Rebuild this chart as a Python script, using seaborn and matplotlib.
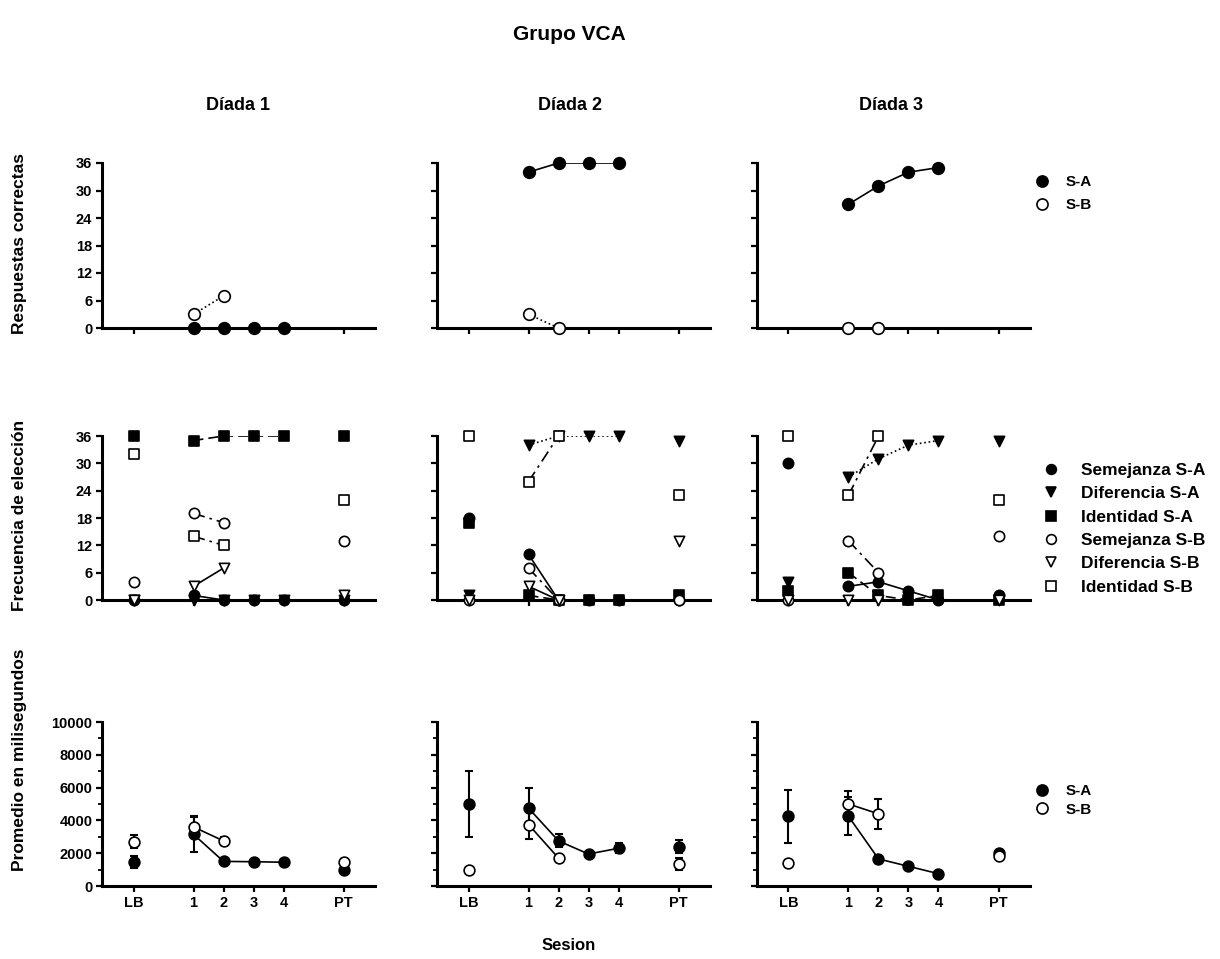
import numpy as np
import matplotlib
matplotlib.use("Agg")
import matplotlib.pyplot as plt
import seaborn as sns
from matplotlib.lines import Line2D

N = np.nan
sessions = ["LB", "1", "2", "3", "4", "PT"]
diadas = ["Díada 1", "Díada 2", "Díada 3"]

# ---- Row 1: Respuestas correctas ----
resp_SA_d1 = [N, 0, 0, 0, 0, N]
resp_SB_d1 = [N, 3, 7, N, N, N]
resp_SA_d2 = [N, 34, 36, 36, 36, N]
resp_SB_d2 = [N, 3, 0, N, N, N]
resp_SA_d3 = [N, 27, 31, 34, 35, N]
resp_SB_d3 = [N, 0, 0, N, N, N]

# ---- Row 2: Frecuencia de elección ----
sem_SA_d1 = [0, 1, 0, 0, 0, 0]
dif_SA_d1 = [0, 0, 0, 0, 0, 0]
id_SA_d1 = [36, 35, 36, 36, 36, 36]
sem_SB_d1 = [4, 19, 17, N, N, 13]
dif_SB_d1 = [0, 3, 7, N, N, 1]
id_SB_d1 = [32, 14, 12, N, N, 22]

sem_SA_d2 = [18, 10, 0, 0, 0, 0]
dif_SA_d2 = [1, 34, 36, 36, 36, 35]
id_SA_d2 = [17, 1, 0, 0, 0, 1]
sem_SB_d2 = [0, 7, 0, N, N, 0]
dif_SB_d2 = [0, 3, 0, N, N, 13]
id_SB_d2 = [36, 26, 36, N, N, 23]

sem_SA_d3 = [30, 3, 4, 2, 0, 1]
dif_SA_d3 = [4, 27, 31, 34, 35, 35]
id_SA_d3 = [2, 6, 1, 0, 1, 0]
sem_SB_d3 = [0, 13, 6, N, N, 14]
dif_SB_d3 = [0, 0, 0, N, N, 0]
id_SB_d3 = [36, 23, 36, N, N, 22]

# ---- Row 3: Promedio en milisegundos (mean, error) ----
ms_SA_d1 = [1450, 3150, 1500, 1480, 1450, 950]
ms_SA_err_d1 = [350, 1050, 100, 80, 50, 100]
ms_SB_d1 = [2700, 3600, 2750, N, N, 1450]
ms_SB_err_d1 = [400, 650, 250, N, N, 200]

ms_SA_d2 = [5000, 4750, 2750, 1950, 2300, 2400]
ms_SA_err_d2 = [2000, 1200, 400, 100, 300, 400]
ms_SB_d2 = [950, 3750, 1700, N, N, 1350]
ms_SB_err_d2 = [0, 900, 200, N, N, 350]

ms_SA_d3 = [4250, 4250, 1650, 1200, 750, 2000]
ms_SA_err_d3 = [1600, 1150, 250, 100, 50, 200]
ms_SB_d3 = [1400, 5000, 4400, N, N, 1850]
ms_SB_err_d3 = [0, 800, 900, N, N, 250]

# ---------------- layout / styles ----------------
xpos = np.array([-1, 1, 2, 3, 4, 6], dtype=float)
line_idx = [1, 2, 3, 4]      # sessions joined by lines
FONT = ["Liberation Sans", "DejaVu Sans"]

sns.set_theme(style="white")
plt.rcParams["font.family"] = FONT
plt.rcParams["font.weight"] = "bold"
plt.rcParams["text.color"] = "black"
plt.rcParams["axes.labelcolor"] = "black"
plt.rcParams["xtick.color"] = "black"
plt.rcParams["ytick.color"] = "black"

fig = plt.figure(figsize=(12.2, 9.59), dpi=100)
W, H = 1220, 959
col_left = [102, 437, 757]
col_w = 273
row_tb = [(163, 328), (436, 600), (722, 886)]

axes = [[None] * 3 for _ in range(3)]
for r, (top, bot) in enumerate(row_tb):
    for c, left in enumerate(col_left):
        ax = fig.add_axes([left / W, 1 - bot / H, col_w / W, (bot - top) / H])
        axes[r][c] = ax

row1 = [(resp_SA_d1, resp_SB_d1), (resp_SA_d2, resp_SB_d2), (resp_SA_d3, resp_SB_d3)]
row2 = [
    (sem_SA_d1, dif_SA_d1, id_SA_d1, sem_SB_d1, dif_SB_d1, id_SB_d1),
    (sem_SA_d2, dif_SA_d2, id_SA_d2, sem_SB_d2, dif_SB_d2, id_SB_d2),
    (sem_SA_d3, dif_SA_d3, id_SA_d3, sem_SB_d3, dif_SB_d3, id_SB_d3),
]
row3 = [
    (ms_SA_d1, ms_SA_err_d1, ms_SB_d1, ms_SB_err_d1),
    (ms_SA_d2, ms_SA_err_d2, ms_SB_d2, ms_SB_err_d2),
    (ms_SA_d3, ms_SA_err_d3, ms_SB_d3, ms_SB_err_d3),
]

dashdot = (0, (7, 3, 1.5, 3))
row2_styles = [
    dict(marker="o", filled=True, ls="-"),
    dict(marker="v", filled=True, ls=":"),
    dict(marker="s", filled=True, ls=(0, (6, 3))),
    dict(marker="o", filled=False, ls=dashdot),
    dict(marker="v", filled=False, ls="-"),
    dict(marker="s", filled=False, ls=dashdot),
]
row2_labels = ["Semejanza S-A", "Diferencia S-A", "Identidad S-A",
               "Semejanza S-B", "Diferencia S-B", "Identidad S-B"]


def draw_series(ax, vals, marker, filled, ls, size=60, z=5):
    vals = np.asarray(vals, dtype=float)
    li = [i for i in line_idx if not np.isnan(vals[i])]
    if len(li) > 1:
        sns.lineplot(x=xpos[li], y=vals[li], ax=ax, color="black", linewidth=1.2,
                     linestyle=ls, errorbar=None, sort=False, zorder=3)
    ok = ~np.isnan(vals)
    sns.scatterplot(x=xpos[ok], y=vals[ok], ax=ax, marker=marker, s=size,
                    color="black" if filled else "white", edgecolor="black",
                    linewidth=1.2, zorder=z, clip_on=False)


def style_axis(ax, ylim, yticks, ylabels, minor=None, xlabels=False):
    ax.set_xlim(-2.05, 7.05)
    ax.set_ylim(*ylim)
    for s in ["top", "right"]:
        ax.spines[s].set_visible(False)
    for s in ["left", "bottom"]:
        ax.spines[s].set_linewidth(2.2)
        ax.spines[s].set_color("black")
    ax.set_yticks(yticks)
    if minor is not None:
        ax.set_yticks(minor, minor=True)
    ax.set_xticks(xpos)
    ax.set_xticklabels(sessions if xlabels else [])
    ax.set_yticklabels(ylabels if ylabels else [])
    ax.tick_params(axis="both", which="major", direction="out", length=4, width=1.6,
                   colors="black", labelsize=10.5, pad=3, left=True, bottom=True)
    ax.tick_params(axis="y", which="minor", direction="out", length=3, width=1.3,
                   left=True, colors="black")
    for t in ax.get_xticklabels() + ax.get_yticklabels():
        t.set_fontweight("bold")
        t.set_color("black")
    ax.set_xlabel("")
    ax.set_ylabel("")
    ax.set_facecolor("white")


# Row 1
for c in range(3):
    ax = axes[0][c]
    sa, sb = row1[c]
    draw_series(ax, sa, "o", True, "-", size=70)
    draw_series(ax, sb, "o", False, ":", size=70)
    style_axis(ax, (0, 36), [0, 6, 12, 18, 24, 30, 36],
               [str(v) for v in [0, 6, 12, 18, 24, 30, 36]] if c == 0 else None)

# Row 2
for c in range(3):
    ax = axes[1][c]
    for vals, st in zip(row2[c], row2_styles):
        draw_series(ax, vals, st["marker"], st["filled"], st["ls"], size=55)
    style_axis(ax, (0, 36), [0, 6, 12, 18, 24, 30, 36],
               [str(v) for v in [0, 6, 12, 18, 24, 30, 36]] if c == 0 else None)

# Row 3
for c in range(3):
    ax = axes[2][c]
    sa, sae, sb, sbe = row3[c]
    for vals, errs, filled, z in [(sa, sae, True, 5), (sb, sbe, False, 6)]:
        v = np.asarray(vals, dtype=float)
        e = np.asarray(errs, dtype=float)
        ok = ~np.isnan(v)
        ax.errorbar(xpos[ok], v[ok], yerr=np.nan_to_num(e[ok]), fmt="none",
                    ecolor="black", elinewidth=1.5, capsize=3, capthick=1.5,
                    zorder=2, clip_on=False)
        draw_series(ax, vals, "o", filled, "-", size=60, z=z)
    style_axis(ax, (0, 10000), [0, 2000, 4000, 6000, 8000, 10000],
               ["0", "2000", "4000", "6000", "8000", "10000"] if c == 0 else None,
               minor=[1000, 3000, 5000, 7000, 9000], xlabels=True)

# Legends
def mk(marker, filled, ms=7):
    return Line2D([], [], linestyle="none", marker=marker, markersize=ms,
                  markerfacecolor="black" if filled else "white",
                  markeredgecolor="black", markeredgewidth=1.2)

leg_font = {"family": FONT, "weight": "bold", "size": 11}
l1 = fig.legend([mk("o", True, 8), mk("o", False, 8)], ["S-A", "S-B"],
                loc="upper left", bbox_to_anchor=(1034 / W, 1 - 175 / H),
                frameon=False, prop=leg_font, handlelength=1.0, handletextpad=1.1,
                labelspacing=0.6, borderpad=0, borderaxespad=0, labelcolor="black")
l2 = fig.legend([mk(s["marker"], s["filled"], 7) for s in row2_styles], row2_labels,
                loc="upper left", bbox_to_anchor=(1042 / W, 1 - 463 / H),
                frameon=False, prop={"family": FONT, "weight": "bold", "size": 12.5},
                handlelength=1.0, handletextpad=1.25, labelspacing=0.47,
                borderpad=0, borderaxespad=0, labelcolor="black")
l3 = fig.legend([mk("o", True, 8), mk("o", False, 8)], ["S-A", "S-B"],
                loc="upper left", bbox_to_anchor=(1034 / W, 1 - 784 / H),
                frameon=False, prop=leg_font, handlelength=1.0, handletextpad=1.1,
                labelspacing=0.3, borderpad=0, borderaxespad=0, labelcolor="black")

# Texts
fig.text(569 / W, 1 - 35 / H, "Grupo VCA", ha="center", va="center",
         fontsize=15, fontweight="bold", family=FONT, color="black")
for c, xc in enumerate([238, 570, 891]):
    fig.text(xc / W, 1 - 105 / H, diadas[c], ha="center", va="center",
             fontsize=13, fontweight="bold", family=FONT, color="black")
for txt, yc in [("Respuestas correctas", 243), ("Frecuencia de elección", 515),
                ("Promedio en milisegundos", 760)]:
    fig.text(20 / W, 1 - yc / H, txt, rotation=90, ha="center", va="center",
             fontsize=12.5, fontweight="bold", family=FONT, color="black")
fig.text(569 / W, 1 - 945 / H, "Sesion", ha="center", va="center",
         fontsize=12, fontweight="bold", family=FONT, color="black")

fig.savefig("out.png", dpi=100, facecolor="white")
